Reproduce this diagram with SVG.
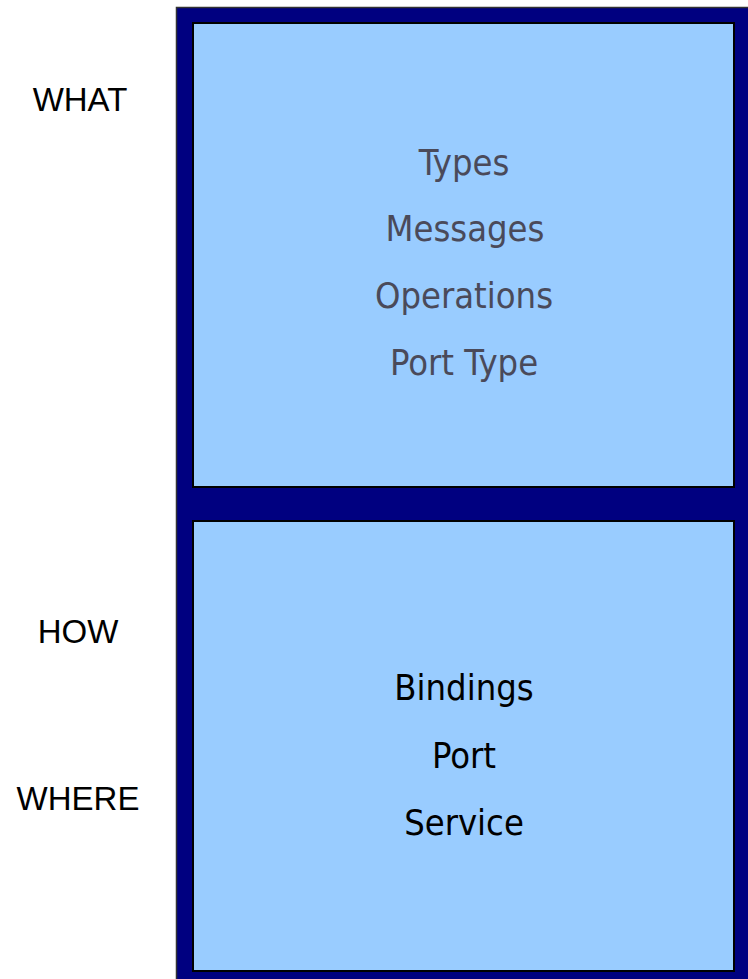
<svg xmlns="http://www.w3.org/2000/svg" width="748" height="979" viewBox="0 0 748 979">
  <style>
    .frame { fill: #000080; stroke: #333333; stroke-width: 1.5; }
    .panel { fill: #99ccff; stroke: #000000; stroke-width: 2; }
    .side { font-family: "Liberation Sans", Arial, sans-serif; font-size: 33px; fill: #000000; text-anchor: middle; }
    .item { font-family: "DejaVu Sans Condensed", "DejaVu Sans", Tahoma, sans-serif; font-size: 36px; text-anchor: middle; }
    .abstract { fill: #4a4a5a; }
    .concrete { fill: #000000; }
  </style>

  <!-- outer navy frame -->
  <rect id="frame" class="frame" x="176.5" y="7.5" width="600" height="1000"/>

  <!-- abstract part -->
  <g id="abstract-panel">
    <rect class="panel" x="193" y="23" width="541" height="464"/>
    <text class="item abstract" x="464" y="175">Types</text>
    <text class="item abstract" x="465" y="241">Messages</text>
    <text class="item abstract" x="464" y="308">Operations</text>
    <text class="item abstract" x="464" y="375">Port Type</text>
  </g>

  <!-- concrete part -->
  <g id="concrete-panel">
    <rect class="panel" x="193" y="521" width="541" height="450"/>
    <text class="item concrete" x="464" y="700">Bindings</text>
    <text class="item concrete" x="464" y="768">Port</text>
    <text class="item concrete" x="464" y="835">Service</text>
  </g>

  <!-- side labels -->
  <g id="labels">
    <text class="side" x="80" y="111">WHAT</text>
    <text class="side" x="78" y="643">HOW</text>
    <text class="side" x="78" y="810">WHERE</text>
  </g>
</svg>
